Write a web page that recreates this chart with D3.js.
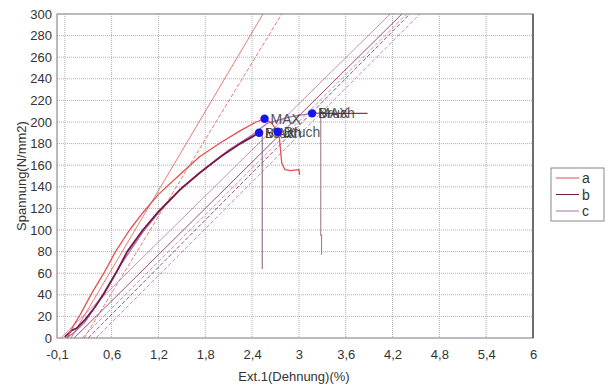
<!DOCTYPE html>
<html><head><meta charset="utf-8">
<script src="https://cdn.jsdelivr.net/npm/d3@7"></script>
<style>
body{margin:0;background:#fff;}
svg text{font-family:"Liberation Sans",Arial,sans-serif;}
</style></head>
<body><svg id="chart" width="608" height="387"></svg>
<script>
// ---- data ----
const seriesNames = ["a", "b", "c"];
const seriesColors = ["#e0504c", "#7a1848", "#b070b0"];
const xTickLabels = [-0.1, 0.6, 1.2, 1.8, 2.4, 3, 3.6, 4.2, 4.8, 5.4, 6];
const xGridValues = [0, 0.6, 1.2, 1.8, 2.4, 3, 3.6, 4.2, 4.8, 5.4];
const yTickLabels = [0, 20, 40, 60, 80, 100, 120, 140, 160, 180, 200, 220, 240, 260, 280, 300];

// stress-strain curves [strain %, stress N/mm2]
const curveA = [[0.03,0],[0.1,10],[0.2,22],[0.35,42],[0.5,60],[0.65,80],[0.83,100],[1.0,116],[1.2,133],[1.5,153],[1.73,168],[2.0,181],[2.25,192],[2.45,200],[2.56,203],[2.65,199],[2.73,191],[2.75,185],[2.78,162],[2.82,156],[2.9,155],[3.0,156],[3.01,151]];
const curveB = [[0.0,1],[0.09,7],[0.15,9],[0.26,17],[0.38,28],[0.51,42],[0.67,62],[0.8,80],[1.0,100],[1.2,117],[1.47,137],[1.73,153],[2.0,168],[2.25,180],[2.49,190]];
const curveC = [[0.02,0],[0.12,5],[0.25,14],[0.4,30],[0.55,48],[0.7,66],[0.85,82],[1.0,98],[1.2,116],[1.5,139],[1.8,157],[2.1,174],[2.4,188],[2.6,199],[2.9,205],[3.17,208]];
// after-break segments
const dropB = [[2.49,190],[2.53,190],[2.53,64]];
const dropC = [[3.17,208],[3.28,208],[3.28,95],[3.29,95],[3.29,77]];
const tailC = [[3.17,208],[3.88,208]];

// modulus / offset lines, series index, dashed
const refLines = [
  {s:0, dash:false, pts:[[0.08,0],[2.54,300]]},
  {s:0, dash:true,  pts:[[0.25,0],[2.78,300]]},
  {s:2, dash:false, pts:[[-0.05,0],[4.17,300]]},
  {s:1, dash:false, pts:[[0.12,0],[4.32,300]]},
  {s:2, dash:true,  pts:[[0.22,0],[4.38,300]]},
  {s:1, dash:true,  pts:[[0.3,0],[4.42,300]]},
  {s:2, dash:true,  pts:[[0.4,0],[4.55,300]]}
];

// markers
const markers = [
  {x:2.56, y:203, labels:["MAX"]},
  {x:2.49, y:190, labels:["MAX","Bruch"]},
  {x:2.73, y:191, labels:["Bruch"]},
  {x:3.17, y:208, labels:["MAX","Bruch"]}
];

// ---- drawing ----
const svg = d3.select("#chart");
const L = 57, T = 14, R = 533, B = 338;
const x = d3.scaleLinear().domain([-0.1, 6]).range([L, R]);
const y = d3.scaleLinear().domain([0, 300]).range([B, T]);
const fmt = v => String(v).replace(".", ",");

// grid
svg.append("g").selectAll("line").data(xGridValues).join("line")
  .attr("x1", d => x(d)).attr("x2", d => x(d)).attr("y1", T).attr("y2", B)
  .attr("stroke", "#b0b0b0").attr("stroke-width", 1).attr("stroke-dasharray", "1,1");
svg.append("g").selectAll("line").data(yTickLabels.filter(v => v > 0 && v < 300)).join("line")
  .attr("x1", L).attr("x2", R).attr("y1", d => y(d)).attr("y2", d => y(d))
  .attr("stroke", "#b0b0b0").attr("stroke-width", 1).attr("stroke-dasharray", "1,1");

// axes labels
const xAxis = d3.axisBottom(x).tickValues(xTickLabels).tickFormat(fmt).tickSize(0).tickPadding(12);
const gx = svg.append("g").attr("transform", `translate(0,${B})`).call(xAxis);
gx.select(".domain").remove();
gx.selectAll("text").attr("font-size", 13).attr("fill", "#333");
const yAxis = d3.axisLeft(y).tickValues(yTickLabels).tickFormat(fmt).tickSize(0).tickPadding(5);
const gy = svg.append("g").attr("transform", `translate(${L},0)`).call(yAxis);
gy.select(".domain").remove();
gy.selectAll("text").attr("font-size", 13).attr("fill", "#333");

svg.append("clipPath").attr("id", "clip").append("rect")
  .attr("x", L).attr("y", T).attr("width", R - L).attr("height", B - T);
const plot = svg.append("g").attr("clip-path", "url(#clip)");
const line = d3.line().x(d => x(d[0])).y(d => y(d[1]));

// reference lines
plot.selectAll(".ref").data(refLines).join("path")
  .attr("d", d => line(d.pts)).attr("fill", "none")
  .attr("stroke", d => seriesColors[d.s]).attr("stroke-width", 0.9)
  .attr("stroke-opacity", 0.85)
  .attr("stroke-dasharray", d => d.dash ? "4,2" : null);

// after-break segments
plot.append("path").attr("d", line(tailC)).attr("fill", "none")
  .attr("stroke", "#8a3a4a").attr("stroke-width", 1.1);
plot.append("path").attr("d", line(dropB)).attr("fill", "none")
  .attr("stroke", "#8a6a8a").attr("stroke-width", 1.1);
plot.append("path").attr("d", line(dropC)).attr("fill", "none")
  .attr("stroke", "#a08088").attr("stroke-width", 1.1);

// curves
const curves = [curveA, curveB, curveC];
[2, 1, 0].forEach(i => {
  plot.append("path").attr("d", line(curves[i])).attr("fill", "none")
    .attr("stroke", seriesColors[i]).attr("stroke-width", i === 1 ? 1.8 : 1.3)
    .attr("stroke-linejoin", "round");
});

// frame
svg.append("rect").attr("x", L).attr("y", T).attr("width", R - L).attr("height", B - T)
  .attr("fill", "none").attr("stroke", "#777").attr("stroke-width", 1);
svg.append("line").attr("x1", R).attr("x2", R).attr("y1", T).attr("y2", B)
  .attr("stroke", "#555").attr("stroke-width", 1.5);

// markers
markers.forEach(m => {
  svg.append("circle").attr("cx", x(m.x)).attr("cy", y(m.y)).attr("r", 4.2).attr("fill", "#1515f0");
  m.labels.forEach(t => {
    svg.append("text").attr("x", x(m.x) + 6).attr("y", y(m.y) + 5)
      .attr("font-size", 14).attr("fill", "#333").attr("fill-opacity", 0.85).text(t);
  });
});

// titles
svg.append("text").attr("x", 294).attr("y", 381).attr("text-anchor", "middle")
  .attr("font-size", 13).attr("fill", "#333").text("Ext.1(Dehnung)(%)");
svg.append("text").attr("transform", "translate(26,176) rotate(-90)").attr("text-anchor", "middle")
  .attr("font-size", 13).attr("fill", "#333").text("Spannung(N/mm2)");

// legend
const lg = svg.append("g");
lg.append("rect").attr("x", 551).attr("y", 168).attr("width", 53).attr("height", 53)
  .attr("fill", "#fff").attr("stroke", "#888").attr("stroke-width", 1);
seriesNames.forEach((n, i) => {
  const yy = 178 + i * 16.5;
  lg.append("line").attr("x1", 556).attr("x2", 579).attr("y1", yy).attr("y2", yy)
    .attr("stroke", seriesColors[i]).attr("stroke-width", 1);
  lg.append("text").attr("x", 582).attr("y", yy + 5).attr("font-size", 14).attr("fill", "#333").text(n);
});
</script></body></html>
